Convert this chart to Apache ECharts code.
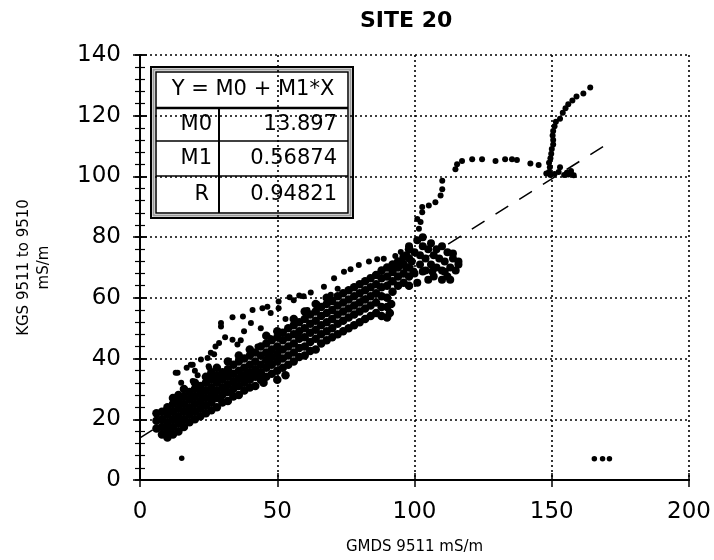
<!DOCTYPE html>
<html>
<head>
<meta charset="utf-8">
<script src="https://cdn.jsdelivr.net/npm/echarts@6/dist/echarts.min.js"></script>
<style>html,body{margin:0;padding:0;background:#fff}#c{width:714px;height:560px}</style>
</head>
<body>
<div id="c"></div>
<script>
// ---- data ----
const titleText = 'SITE 20';
const xName = 'GMDS 9511 mS/m';
const yName = 'KGS 9511 to 9510\nmS/m';
const xTicks = [0, 50, 100, 150, 200];
const yTicks = [0, 20, 40, 60, 80, 100, 120, 140];
const M0 = 13.897, M1 = 0.56874, R = 0.94821;
const fitX = [0, 172];

// dense main band
const denseBand = [
 [6,17],[6,19.5],[6,22],
 [8,15],[8,17.5],[8,20],[8,22.5],
 [10,14],[10,16.5],[10,19],[10,21.5],[10,24],
 [12,15],[12,17.5],[12,20],[12,22.5],[12,25],[12,27],
 [14,16],[14,18.5],[14,21],[14,23.5],[14,26],[14,28],
 [16,17.5],[16,20],[16,22.5],[16,25],[16,27.5],[16,30],
 [18,19],[18,21.5],[18,24],[18,26.5],[18,29],
 [20,20],[20,22.5],[20,25],[20,27.5],[20,30],[20,32],
 [22,21],[22,23.5],[22,26],[22,28.5],[22,31],
 [24,22],[24,24.5],[24,27],[24,29.5],[24,32],[24,34],
 [26,23],[26,25.5],[26,28],[26,30.5],[26,33],[26,35.5],
 [28,24],[28,27],[28,29.5],[28,32],[28,34.5],[28,37],
 [30,25.5],[30,28],[30,30.5],[30,33],[30,35.5],
 [32,26],[32,29],[32,31.5],[32,34],[32,36.5],[32,39],
 [34,27.5],[34,30],[34,32.5],[34,35],[34,38],
 [36,28],[36,31],[36,33.5],[36,36],[36,39],[36,41],
 [38,29.5],[38,32],[38,34.5],[38,37],[38,40],
 [40,30.5],[40,33],[40,35.5],[40,38],[40,41],[40,43],
 [42,31],[42,34],[42,36.5],[42,39],[42,42],
 [44,33],[44,35.5],[44,38],[44,41],[44,44],
 [45,32],[46,34],[46,37],[46,39.5],[46,42],[46,45],[46,47.5],
 [48,35],[48,38],[48,40.5],[48,43],[48,46],
 [50,33],[50,36],[50,39],[50,41.5],[50,44],[50,47],[50,49],
 [52,37],[52,40],[52,43],[52,46],[52,48.5],[53,34.5],
 [54,38],[54,41],[54,44],[54,47],[54,50],
 [56,39],[56,42],[56,45],[56,48],[56,51],[56,53],
 [58,40.5],[58,43.5],[58,46.5],[58,49],[58,52],
 [60,41],[60,44],[60,47],[60,50],[60,53],[60,55.5],
 [62,42.5],[62,45.5],[62,48.5],[62,51.5],[62,54.5],
 [64,43],[64,46.5],[64,49.5],[64,52.5],[64,55.5],[64,58],
 [66,45],[66,48],[66,51],[66,54],[66,57],
 [68,46],[68,49],[68,52],[68,55],[68,58],[68,60],
 [70,47],[70,50],[70,53],[70,56],[70,59],
 [72,48],[72,51.5],[72,54.5],[72,57.5],[72,60.5],
 [74,49],[74,52.5],[74,55.5],[74,58.5],[74,61.5],
 [76,50],[76,53.5],[76,56.5],[76,59.5],[76,62.5],
 [78,51],[78,54.5],[78,57.5],[78,60.5],[78,63.5],
 [80,52],[80,55.5],[80,58.5],[80,61.5],[80,64.5],
 [82,53],[82,56.5],[82,59.5],[82,62.5],[82,65.5],
 [84,54],[84,57.5],[84,60.5],[84,63.5],[84,66.5],
 [86,55],[86,58.5],[86,61.5],[86,64.5],[86,67.5],
 [88,54],[88,57],[88,60.5],[88,63.5],[88,66.5],[88,69],
 [90,53.5],[90,57],[90,60],[90,64],[90,67],[90,70],
 [91,55],[91.5,58],
 [92,62],[92,65.5],[92,68.5],[92,71],
 [94,64],[94,67],[94,70],[94,72],
 [96,65],[96,68],[96,71],[96,73.5],
 [98,64],[98,67],[98,70],[98,73],[98,76]
];

// cluster near (105, 72)
const topCluster = [
 [97,70],[97,74],[98,77],[99,72],[100,68],[100,75],[101,79],[102,71],[102,74],
 [103,77],[103,80],[104,69],[104,73],[105,76],[106,78],[106,71],[107,74],[107,67],
 [108,76],[108,70],[109,73],[110,69],[110,77],[111,72],[112,75],[112,67],[113,70],
 [114,73],[115,69],[116,71],[113,66],[110,66],[106.5,68.7],[103,68.7],[99.6,68.7],
 [114,74.6],[111,68.6],[116,72],[101,65],[105,66]
];

// sparse upper branch
const upperBand = [
 [13,35.3],[15,32],[17,37],[19.2,38],[22.2,39.7],[25.8,41.9],[24.6,40.2],[27,41.4],
 [28.8,45.1],[29.5,50.6],[29.5,51.7],[33.7,53.6],[37.5,53.9],[41,56],[44.6,56.6],
 [46.4,57.1],[50.5,58.8],[54.5,60.2],[58,60.8],[62.2,61.8],[67,63.7],[70.7,66.5],
 [74.3,68.6],[76.7,69.4],[79.7,70.8],[83.4,72],[86.4,72.7],[88.8,72.9],[93,73.8],
 [95,75.1],[98.5,76.2]
];

// scattered points between the branches
const middlePts = [
 [19.2,32.6],[21,34.5],[25,37.5],[27.5,44],[31,47],[33.7,46.2],[35.5,44.6],[36.7,46],
 [37.9,49],[40.4,51.7],[42.8,44],[44,50],[47.6,46.8],[47.6,55],[50.5,56.6],[53,53],
 [56,59.2],[59.6,60.5],[61,56],[64.6,58],[69.5,61],[72,63],[18.5,38],[13.7,35.3],
 [20,36],[25.2,37]
];

// rising path to the 105 plateau and on to 150
const risePath = [
 [101.6,82.8],[102.2,85],[101,86],[102.8,88.2],[102.8,89.9],[105.2,90.4],[107.6,91.5],
 [109.5,93.7],[110.1,95.8],[110.1,98.6],[114.9,102.4],[115.5,104],[117.3,105.1],
 [121,105.7],[124.6,105.7],[129.5,105.1],[133,105.7],[135.5,105.7],[137.3,105.4],
 [142.2,104.3],[145.2,103.8]
];

// vertical excursion near x = 150
const hookPath = [
 [148,101],[149.5,100.5],[151,100.8],[152.5,101.5],[153,103],[154.5,100.5],[155.5,101.2],
 [156,100.6],[157,101],[158,100.4],[157,101.8],
 [149,101.5],[149.3,103],[149,104.5],[149.5,106],[149.8,107.5],[150,109],[150.5,110.5],
 [150.5,112],[150.3,113.5],[150.5,115],[151,116.5],[151.5,118],[153,119],[154,121],
 [155,122.5],[156,123.8],[157.5,125],[159,126.3],[161.5,127.3],[164,129.3]
];

const outliers = [[15.2,7.2],[165.5,7],[168.5,7],[171,7]];

// ---- chart ----
const FONT = 'DejaVu Sans';
const chart = echarts.init(document.getElementById('c'), null, {renderer: 'canvas'});
function sc(data, size) {
  return {type: 'scatter', data: data, symbol: 'circle', symbolSize: size,
          itemStyle: {color: '#000', opacity: 1}, xAxisIndex: 0, yAxisIndex: 0, silent: true, z: 3};
}
const fitLine = fitX.map(x => [x, M0 + M1 * x]);

const gridLine = {show: true, lineStyle: {color: '#000', type: [2, 3], width: 1.6}};
const axLine = {show: true, lineStyle: {color: '#000', width: 2}};
const tickStyle = {color: '#000', width: 1.5};

chart.setOption({
  animation: false,
  backgroundColor: '#fff',
  title: {text: titleText, left: 355, top: 5,
          textStyle: {fontFamily: FONT, fontSize: 22, fontWeight: 'bold', color: '#000'}},
  grid: {left: 140, right: 24, top: 55, bottom: 77},
  xAxis: [
    {type: 'value', position: 'bottom', min: xTicks[0], max: xTicks[xTicks.length - 1], interval: 50,
     axisLine: axLine, axisTick: {show: true, length: 7, lineStyle: tickStyle},
     axisLabel: {fontFamily: FONT, fontSize: 23, color: '#000', margin: 21},
     splitLine: gridLine,
     name: xName, nameLocation: 'middle', nameGap: 60,
     nameTextStyle: {fontFamily: FONT, fontSize: 15, color: '#000'}},
    {type: 'value', position: 'top', min: xTicks[0], max: xTicks[xTicks.length - 1], interval: 50,
     axisLine: axLine, axisTick: {show: true, length: 7, lineStyle: tickStyle},
     axisLabel: {show: false}, splitLine: {show: false}},
    {type: 'value', position: 'top', min: xTicks[0], max: xTicks[xTicks.length - 1], interval: 50,
     axisLine: {show: false}, axisTick: {show: true, inside: true, length: 5, lineStyle: tickStyle},
     axisLabel: {show: false}, splitLine: {show: false}},
    {type: 'value', position: 'bottom', min: xTicks[0], max: xTicks[xTicks.length - 1], interval: 50,
     axisLine: {show: false}, axisTick: {show: true, inside: true, length: 5, lineStyle: tickStyle},
     axisLabel: {show: false}, splitLine: {show: false}}
  ],
  yAxis: [
    {type: 'value', position: 'left', min: yTicks[0], max: yTicks[yTicks.length - 1], interval: 20,
     axisLine: axLine, axisTick: {show: true, length: 7, lineStyle: tickStyle},
     axisLabel: {fontFamily: FONT, fontSize: 23, color: '#000', margin: 19},
     splitLine: gridLine,
     name: yName, nameLocation: 'middle', nameRotate: 90, nameGap: 86,
     nameTextStyle: {fontFamily: FONT, fontSize: 15, color: '#000', lineHeight: 20}},
    {type: 'value', position: 'left', min: yTicks[0], max: yTicks[yTicks.length - 1], interval: 20,
     axisLine: {show: false}, axisTick: {show: true, inside: true, length: 5, lineStyle: tickStyle},
     minorTick: {show: true, splitNumber: 5, length: 5, lineStyle: {color: '#000', width: 1.2}},
     axisLabel: {show: false}, splitLine: {show: false}},
    {type: 'value', position: 'right', min: yTicks[0], max: yTicks[yTicks.length - 1], interval: 20,
     axisLine: axLine, axisTick: {show: true, length: 7, lineStyle: tickStyle},
     axisLabel: {show: false}, splitLine: {show: false}},
    {type: 'value', position: 'right', min: yTicks[0], max: yTicks[yTicks.length - 1], interval: 20,
     axisLine: {show: false}, axisTick: {show: true, inside: true, length: 5, lineStyle: tickStyle},
     minorTick: {show: true, splitNumber: 5, length: 5, lineStyle: {color: '#000', width: 1.2}},
     axisLabel: {show: false}, splitLine: {show: false}}
  ],
  series: [
    sc(denseBand, 8.5), sc(topCluster, 8), sc(upperBand, 6), sc(middlePts, 6),
    sc(risePath, 6), sc(hookPath, 6), sc(outliers, 5.5),
    {type: 'line', data: fitLine, xAxisIndex: 0, yAxisIndex: 0, symbol: 'none', silent: true, z: 4,
     lineStyle: {color: '#000', width: 1.5, type: [15, 13]}}
  ],
  graphic: [
    {type: 'group', left: 150, top: 66, z: 100, children: [
      {type: 'rect', shape: {x: 0, y: 0, width: 202, height: 151}, style: {fill: '#fff', stroke: '#000', lineWidth: 2}},
      {type: 'rect', shape: {x: 2.5, y: 2.5, width: 197, height: 146}, style: {fill: 'none', stroke: '#999', lineWidth: 2}},
      {type: 'rect', shape: {x: 5, y: 5, width: 192, height: 141}, style: {fill: '#fff', stroke: '#000', lineWidth: 1.5}},
      {type: 'line', shape: {x1: 5, y1: 41, x2: 197, y2: 41}, style: {stroke: '#000', lineWidth: 2.5}},
      {type: 'line', shape: {x1: 5, y1: 74, x2: 197, y2: 74}, style: {stroke: '#000', lineWidth: 1.5}},
      {type: 'line', shape: {x1: 5, y1: 109, x2: 197, y2: 109}, style: {stroke: '#000', lineWidth: 1.5}},
      {type: 'line', shape: {x1: 68, y1: 41, x2: 68, y2: 146}, style: {stroke: '#000', lineWidth: 2}},
      {type: 'text', x: 102, y: 23, style: {text: 'Y = M0 + M1*X', font: '21px "DejaVu Sans"', fill: '#000', textAlign: 'center', textVerticalAlign: 'middle'}},
      {type: 'text', x: 61, y: 58, style: {text: 'M0', font: '21px "DejaVu Sans"', fill: '#000', textAlign: 'right', textVerticalAlign: 'middle'}},
      {type: 'text', x: 61, y: 92, style: {text: 'M1', font: '21px "DejaVu Sans"', fill: '#000', textAlign: 'right', textVerticalAlign: 'middle'}},
      {type: 'text', x: 58, y: 128, style: {text: 'R', font: '21px "DejaVu Sans"', fill: '#000', textAlign: 'right', textVerticalAlign: 'middle'}},
      {type: 'text', x: 186, y: 58, style: {text: M0.toFixed(3), font: '21px "DejaVu Sans"', fill: '#000', textAlign: 'right', textVerticalAlign: 'middle'}},
      {type: 'text', x: 186, y: 92, style: {text: M1.toFixed(5), font: '21px "DejaVu Sans"', fill: '#000', textAlign: 'right', textVerticalAlign: 'middle'}},
      {type: 'text', x: 186, y: 128, style: {text: R.toFixed(5), font: '21px "DejaVu Sans"', fill: '#000', textAlign: 'right', textVerticalAlign: 'middle'}}
    ]}
  ]
});
</script>
</body>
</html>
